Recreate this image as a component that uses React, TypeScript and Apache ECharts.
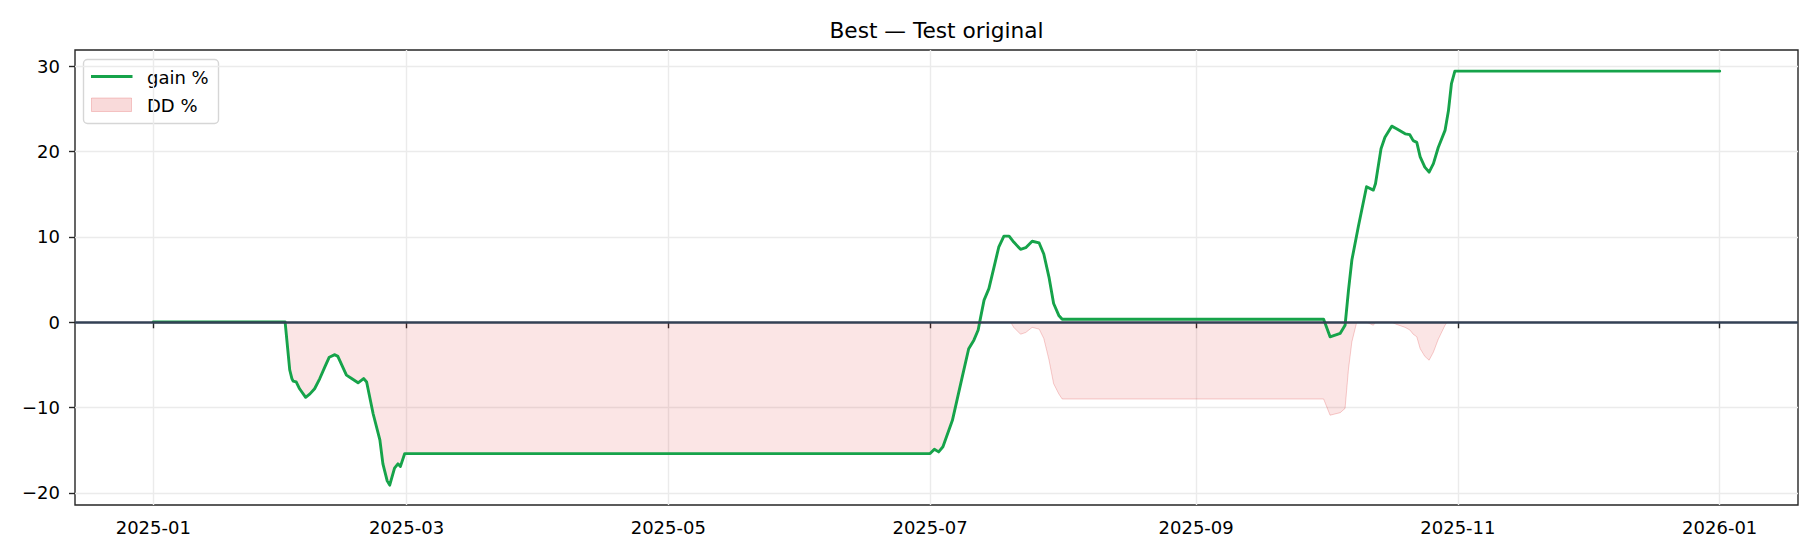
import React, { useEffect, useRef } from "react";
import * as echarts from "echarts";

const TITLE = "Best — Test original";
const SERIES_GAIN = "gain %";
const SERIES_DD = "DD %";

// x tick positions and labels
const xTickDates = ["2025-01-01", "2025-03-01", "2025-05-01", "2025-07-01", "2025-09-01", "2025-11-01", "2026-01-01"];
const xTickLabels = ["2025-01", "2025-03", "2025-05", "2025-07", "2025-09", "2025-11", "2026-01"];
const yTickValues = [-20, -10, 0, 10, 20, 30];
const yTickLabels = ["−20", "−10", "0", "10", "20", "30"];

// gain % series (date "YYYY-MM-DD HH")
const gainTimes = [
  "2025-01-01 00", "2025-01-31 17", "2025-02-01 19", "2025-02-02 07", "2025-02-02 14", "2025-02-03 07",
  "2025-02-04 02", "2025-02-05 12", "2025-02-06 12", "2025-02-07 14", "2025-02-08 19", "2025-02-10 00",
  "2025-02-11 00", "2025-02-12 07", "2025-02-13 00", "2025-02-15 00", "2025-02-16 05", "2025-02-17 17",
  "2025-02-19 00", "2025-02-19 17", "2025-02-21 05", "2025-02-22 19", "2025-02-23 12", "2025-02-24 12",
  "2025-02-25 02", "2025-02-26 05", "2025-02-27 00", "2025-02-27 14", "2025-02-28 14", "2025-07-01 00",
  "2025-07-02 00", "2025-07-03 00", "2025-07-04 00", "2025-07-06 05", "2025-07-08 12", "2025-07-10 00",
  "2025-07-11 05", "2025-07-12 05", "2025-07-12 19", "2025-07-13 14", "2025-07-14 17", "2025-07-15 22",
  "2025-07-17 00", "2025-07-18 05", "2025-07-19 10", "2025-07-20 12", "2025-07-22 02", "2025-07-23 07",
  "2025-07-24 19", "2025-07-26 10", "2025-07-27 12", "2025-07-28 17", "2025-07-29 19", "2025-07-31 00",
  "2025-07-31 19", "2025-09-30 17", "2025-10-02 05", "2025-10-04 14", "2025-10-05 17", "2025-10-06 12",
  "2025-10-07 07", "2025-10-08 19", "2025-10-10 17", "2025-10-12 07", "2025-10-12 19", "2025-10-14 02",
  "2025-10-15 00", "2025-10-16 14", "2025-10-17 17", "2025-10-19 17", "2025-10-20 19", "2025-10-21 14",
  "2025-10-22 10", "2025-10-23 05", "2025-10-24 07", "2025-10-25 07", "2025-10-26 07", "2025-10-27 10",
  "2025-10-29 00", "2025-10-29 19", "2025-10-30 12", "2025-10-31 07", "2026-01-01 00",
];
const gainValues = [
  0.05, 0.05, -5.6, -6.6, -6.9, -7.0,
  -7.8, -8.8, -8.4, -7.8, -6.6, -5.2,
  -4.1, -3.8, -4.0, -6.2, -6.6, -7.1,
  -6.6, -7.0, -10.7, -13.8, -16.6, -18.6,
  -19.1, -17.1, -16.6, -16.9, -15.4, -15.4,
  -14.9, -15.2, -14.6, -11.5, -6.4, -3.1,
  -2.1, -0.9, 0.6, 2.6, 3.95, 6.5,
  8.8, 10.1, 10.1, 9.4, 8.55, 8.75,
  9.5, 9.3, 8.0, 5.3, 2.2, 0.8,
  0.35, 0.35, -1.7, -1.3, -0.35, 3.75,
  7.3, 11.2, 15.9, 15.5, 16.25, 20.35,
  21.7, 23.0, 22.7, 22.1, 22.0, 21.3,
  21.1, 19.4, 18.2, 17.6, 18.6, 20.5,
  22.5, 24.8, 28.0, 29.45, 29.45,
];

// DD % series
const ddTimes = [
  "2025-01-01 00", "2025-01-31 17", "2025-02-01 19", "2025-02-02 07", "2025-02-02 14", "2025-02-03 07",
  "2025-02-04 02", "2025-02-05 12", "2025-02-06 12", "2025-02-07 14", "2025-02-08 19", "2025-02-10 00",
  "2025-02-11 00", "2025-02-12 07", "2025-02-13 00", "2025-02-15 00", "2025-02-16 05", "2025-02-17 17",
  "2025-02-19 00", "2025-02-19 17", "2025-02-21 05", "2025-02-22 19", "2025-02-23 12", "2025-02-24 12",
  "2025-02-25 02", "2025-02-26 05", "2025-02-27 00", "2025-02-27 14", "2025-02-28 14", "2025-07-01 00",
  "2025-07-02 00", "2025-07-03 00", "2025-07-04 00", "2025-07-06 05", "2025-07-08 12", "2025-07-10 00",
  "2025-07-11 05", "2025-07-12 05", "2025-07-12 14", "2025-07-19 19", "2025-07-20 12", "2025-07-22 02",
  "2025-07-23 07", "2025-07-24 19", "2025-07-26 10", "2025-07-27 12", "2025-07-28 17", "2025-07-29 19",
  "2025-07-31 00", "2025-07-31 19", "2025-09-30 17", "2025-10-02 05", "2025-10-04 14", "2025-10-05 17",
  "2025-10-06 12", "2025-10-07 07", "2025-10-08 10", "2025-10-10 17", "2025-10-12 07", "2025-10-12 19",
  "2025-10-16 14", "2025-10-17 17", "2025-10-19 17", "2025-10-20 19", "2025-10-21 14", "2025-10-22 10",
  "2025-10-23 05", "2025-10-24 07", "2025-10-25 07", "2025-10-26 07", "2025-10-27 10", "2025-10-29 00",
  "2025-10-29 12", "2026-01-01 00",
];
const ddValues = [
  0, 0, -5.6, -6.6, -6.9, -7.0,
  -7.8, -8.8, -8.4, -7.8, -6.6, -5.2,
  -4.1, -3.8, -4.0, -6.2, -6.6, -7.1,
  -6.6, -7.0, -10.7, -13.8, -16.6, -18.6,
  -19.1, -17.1, -16.6, -16.9, -15.4, -15.4,
  -14.9, -15.2, -14.6, -11.5, -6.4, -3.1,
  -2.1, -0.9, 0, 0, -0.6, -1.4,
  -1.2, -0.6, -0.8, -1.9, -4.4, -7.2,
  -8.4, -9.0, -9.0, -10.9, -10.6, -10.1,
  -5.5, -2.3, 0, 0, -0.35, 0,
  0, -0.25, -0.6, -0.9, -1.4, -1.7,
  -3.1, -4.0, -4.45, -3.5, -2.0, -0.35,
  0, 0,
];

const X_MIN = "2024-12-13 18";
const X_MAX = "2026-01-19 06";
const Y_MIN = -21.43;
const Y_MAX = 31.93;

const FONT = "DejaVu Sans";
const GREEN = "#16a34a";
const DD_FILL = "rgba(220,38,38,0.17)";
const DD_EDGE = "rgba(220,38,38,0.22)";
const ZERO = "#334155";
const AXIS = "#262626";

function ts(s: string): number {
  const [d, h] = s.split(" ");
  const [Y, M, D] = d.split("-").map(Number);
  return Date.UTC(Y, M - 1, D, h ? Number(h) : 0);
}

export default function App() {
  const ref = useRef<HTMLDivElement>(null);
  useEffect(() => {
    if (!ref.current) return;
    const chart = echarts.init(ref.current, null, { renderer: "svg" });
    const xTicks = xTickDates.map(ts);
    const option: any = {
      animation: false,
      backgroundColor: "#ffffff",
      textStyle: { fontFamily: FONT },
      grid: {
        left: 75,
        right: 22,
        top: 50,
        bottom: 55,
        show: true,
        borderColor: AXIS,
        borderWidth: 1.4,
        backgroundColor: "transparent",
      },
      xAxis: {
        type: "value",
        min: ts(X_MIN),
        max: ts(X_MAX),
        axisLine: { show: false },
        axisTick: {
          show: true,
          customValues: xTicks,
          length: 6,
          lineStyle: { color: AXIS, width: 1.4 },
        },
        axisLabel: {
          show: true,
          customValues: xTicks,
          margin: 13,
          fontSize: 18,
          fontFamily: FONT,
          color: "#000",
          formatter: (v: number) => {
            const i = xTicks.indexOf(v);
            return i >= 0 ? xTickLabels[i] : "";
          },
        },
        splitLine: { show: true, lineStyle: { color: "#ebebeb", width: 1.4 } },
      },
      yAxis: {
        type: "value",
        min: Y_MIN,
        max: Y_MAX,
        axisLine: { show: false },
        axisTick: {
          show: true,
          customValues: yTickValues,
          length: 6,
          lineStyle: { color: AXIS, width: 1.4 },
        },
        axisLabel: {
          show: true,
          customValues: yTickValues,
          margin: 15,
          fontSize: 18,
          fontFamily: FONT,
          color: "#000",
          formatter: (v: number) => {
            const i = yTickValues.indexOf(v);
            return i >= 0 ? yTickLabels[i] : "";
          },
        },
        splitLine: { show: true, lineStyle: { color: "#ebebeb", width: 1.4 } },
      },
      series: [
        {
          name: SERIES_DD,
          type: "line",
          z: 1,
          symbol: "none",
          data: ddTimes.map((t, i) => [ts(t), ddValues[i]]),
          lineStyle: { color: DD_EDGE, width: 1 },
          areaStyle: { color: DD_FILL, origin: 0 },
        },
        {
          name: SERIES_GAIN,
          type: "line",
          z: 2,
          symbol: "none",
          data: gainTimes.map((t, i) => [ts(t), gainValues[i]]),
          lineStyle: { color: GREEN, width: 2.9, join: "round", cap: "round" },
        },
        {
          name: "zero",
          type: "line",
          z: 3,
          symbol: "none",
          data: [],
          markLine: {
            silent: true,
            symbol: "none",
            label: { show: false },
            lineStyle: { color: ZERO, width: 2.7, type: "solid" },
            data: [{ yAxis: 0 }],
          },
        },
      ],
      graphic: [
        {
          type: "text",
          x: 936.5,
          y: 30,
          style: {
            text: TITLE,
            fontSize: 21.7,
            fontFamily: FONT,
            fill: "#000",
            align: "center",
            verticalAlign: "middle",
          },
        },
        {
          type: "group",
          z: 100,
          children: [
            {
              type: "rect",
              shape: { x: 83.5, y: 59.5, width: 135, height: 64, r: 4 },
              style: { fill: "rgba(255,255,255,0.8)", stroke: "#d6d6d6", lineWidth: 1.4 },
            },
            {
              type: "line",
              shape: { x1: 91, y1: 76.5, x2: 132.5, y2: 76.5 },
              style: { stroke: GREEN, lineWidth: 2.9 },
            },
            {
              type: "rect",
              shape: { x: 91.5, y: 98, width: 40, height: 13.5 },
              style: { fill: DD_FILL, stroke: DD_EDGE, lineWidth: 1 },
            },
            {
              type: "text",
              x: 147,
              y: 77,
              style: { text: SERIES_GAIN, fontSize: 18, fontFamily: FONT, fill: "#000", verticalAlign: "middle" },
            },
            {
              type: "text",
              x: 147,
              y: 105,
              style: { text: SERIES_DD, fontSize: 18, fontFamily: FONT, fill: "#000", verticalAlign: "middle" },
            },
          ],
        },
      ],
    };
    chart.setOption(option);
    return () => chart.dispose();
  }, []);
  return (
    <div
      ref={ref}
      style={{ position: "fixed", left: 0, top: 0, width: 1820, height: 560, background: "#fff" }}
    />
  );
}
